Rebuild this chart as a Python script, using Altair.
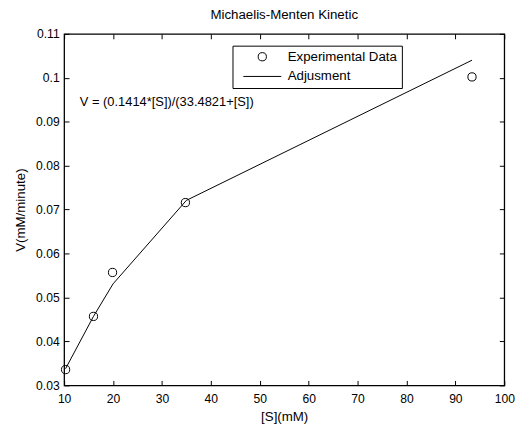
import altair as alt
import pandas as pd

# Experimental data
s_exp = [10.3, 16.0, 19.9, 34.8, 93.4]
v_exp = [0.0336, 0.0457, 0.0557, 0.0716, 0.1002]
# Fitted curve
s_fit = [10.3, 16.0, 20.0, 35.0, 93.4]
v_fit = [0.0338, 0.0457, 0.0531, 0.0721, 0.1040]

x_ticks = [10, 20, 30, 40, 50, 60, 70, 80, 90, 100]
y_ticks = [0.03, 0.04, 0.05, 0.06, 0.07, 0.08, 0.09, 0.1, 0.11]

series = ["Experimental Data", "Adjusment"]
eq_text = ["V = (0.1414*[S])/(33.4821+[S])"]
eq_x = [13.2]
eq_y = [0.0944]

FONT = "Liberation Sans"
TXT = 13.5
W, H = 447, 357
TICK = 5

exp_df = pd.DataFrame({"S": s_exp, "V": v_exp, "series": series[0]})
fit_df = pd.DataFrame({"S": s_fit, "V": v_fit})
eq_df = pd.DataFrame({"S": eq_x, "V": eq_y, "t": eq_text})

xscale = alt.Scale(domain=[10, 100], nice=False, zero=False)
yscale = alt.Scale(domain=[0.03, 0.11], nice=False, zero=False)

# grid lines dashed so that only short inward ticks remain at both ends
x_enc = alt.X("S:Q", scale=xscale, title="[S](mM)",
              axis=alt.Axis(orient="bottom", values=x_ticks, ticks=False, domain=False,
                            grid=True, gridDash=[TICK, H - 2 * TICK, TICK, 1000],
                            gridColor="black", gridOpacity=1, gridWidth=1,
                            labelPadding=7, titlePadding=5, labelFlush=False,
                            labelFont=FONT, labelFontSize=12.3, labelColor="black",
                            titleFont=FONT, titleFontSize=TXT, titleColor="black",
                            titleFontWeight="normal"))
y_enc = alt.Y("V:Q", scale=yscale, title="V(mM/minute)",
              axis=alt.Axis(orient="left", values=y_ticks, ticks=False, domain=False,
                            grid=True, gridDash=[TICK, W - 2 * TICK, TICK, 1000],
                            gridColor="black", gridOpacity=1, gridWidth=1,
                            labelPadding=5, titlePadding=8, labelFlush=False,
                            labelFont=FONT, labelFontSize=12.3, labelColor="black",
                            titleFont=FONT, titleFontSize=TXT, titleColor="black",
                            titleFontWeight="normal",
                            labelExpr="datum.value == 0.1 ? '0.1' : (datum.value == 0.11 ? '0.11' : format(datum.value, '.2f'))"))

line = alt.Chart(fit_df).mark_line(color="black", strokeWidth=1).encode(x=x_enc, y=y_enc)

points = alt.Chart(exp_df).mark_point(filled=False, color="black", size=70, strokeWidth=1, opacity=1).encode(
    x=x_enc, y=y_enc,
    shape=alt.Shape("series:N",
                    scale=alt.Scale(domain=series, range=["circle", "M-4.6,0H4.6"]),
                    legend=alt.Legend(title=None, orient="none", legendX=171, legendY=12,
                                      padding=4.5, strokeColor="black", fillColor="white",
                                      symbolOffset=19, labelOffset=19, rowPadding=5,
                                      symbolSize=70, symbolStrokeWidth=1,
                                      symbolStrokeColor="black", symbolFillColor="transparent",
                                      labelFont=FONT, labelFontSize=TXT, labelColor="black"))
)

eq = alt.Chart(eq_df).mark_text(align="left", baseline="middle", font=FONT, fontSize=13.1, color="black").encode(
    x=x_enc, y=y_enc, text="t:N")

chart = alt.layer(line, points, eq).properties(
    width=W, height=H,
    background="white",
    title=alt.Title("Michaelis-Menten Kinetic", font=FONT, fontSize=TXT, fontWeight="normal",
                    color="black", offset=7, anchor="middle"),
    autosize=alt.AutoSizeParams(type="none"),
    padding={"left": 57, "top": 23, "right": 18, "bottom": 38},
).configure_view(stroke="black", strokeWidth=1.3)

chart.save("out.html", embed_options={"renderer": "svg", "actions": False})
